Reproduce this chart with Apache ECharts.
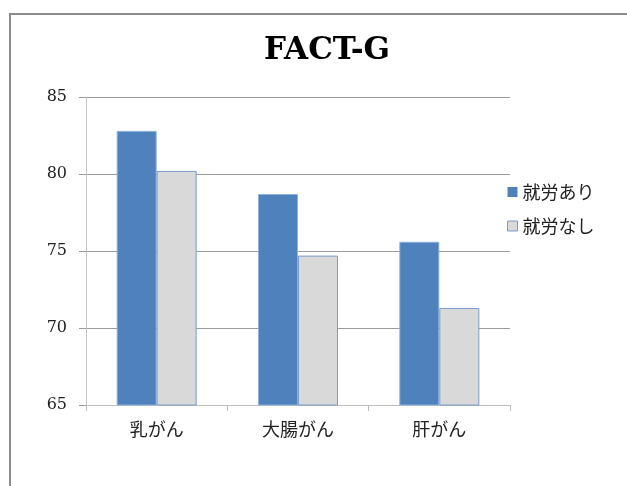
<!DOCTYPE html>
<html>
<head>
<meta charset="utf-8">
<script src="https://cdn.jsdelivr.net/npm/echarts@6/dist/echarts.min.js"></script>
<style>html,body{margin:0;padding:0;background:#fff}#c{width:627px;height:486px}</style>
</head>
<body>
<div id="c"></div>
<script>
const title = 'FACT-G';
const categories = ['乳がん', '大腸がん', '肝がん'];
const seriesNames = ['就労あり', '就労なし'];
const withWork = [82.8, 78.7, 75.6];
const withoutWork = [80.2, 74.7, 71.3];
const yMin = 65, yMax = 85, yStep = 5;

const chart = echarts.init(document.getElementById('c'), null, {renderer: 'canvas'});
chart.setOption({
  backgroundColor: '#fff',
  animation: false,
  graphic: [{
    type: 'rect', silent: true,
    shape: {x: 10, y: 14, width: 640, height: 500},
    style: {fill: 'none', stroke: '#8c8c8c', lineWidth: 2}
  }],
  title: {
    text: title, left: 322, top: 30, textAlign: 'center',
    textStyle: {fontFamily: 'DejaVu Serif', fontWeight: 'bold', fontSize: 31, color: '#000'}
  },
  legend: {
    orient: 'vertical', left: 507, top: 183, itemWidth: 10, itemHeight: 10, itemGap: 16,
    padding: 0,
    icon: 'rect',
    textStyle: {fontFamily: 'Noto Sans CJK JP', fontSize: 18, color: '#222'},
    data: [
      {name: seriesNames[0], itemStyle: {borderWidth: 0}},
      {name: seriesNames[1], itemStyle: {borderColor: '#7a9cca', borderWidth: 1}}
    ]
  },
  grid: {left: 86, right: 117, top: 97, bottom: 81, containLabel: false},
  xAxis: {
    type: 'category', data: categories,
    axisLine: {lineStyle: {color: '#bdbdbd', width: 1}},
    axisTick: {show: true, length: 6, lineStyle: {color: '#bdbdbd'}},
    axisLabel: {margin: 15, fontFamily: 'Noto Sans CJK JP', fontSize: 18, color: '#222'}
  },
  yAxis: {
    type: 'value', min: yMin, max: yMax, interval: yStep,
    axisLine: {show: true, lineStyle: {color: '#c4c4c4', width: 1}},
    axisTick: {show: true, length: 7, lineStyle: {color: '#9a9a9a'}},
    axisLabel: {margin: 19, fontFamily: 'DejaVu Serif', fontSize: 16, color: '#222'},
    splitLine: {lineStyle: {color: '#9a9a9a', width: 1}}
  },
  series: [
    {name: seriesNames[0], type: 'bar', data: withWork, barWidth: 40, barGap: '0%',
     itemStyle: {color: '#4F81BD', borderColor: '#8fb0da', borderWidth: 1}},
    {name: seriesNames[1], type: 'bar', data: withoutWork, barWidth: 40, barGap: '0%',
     itemStyle: {color: '#D9D9D9', borderColor: '#7a9cca', borderWidth: 1}}
  ]
});
</script>
</body>
</html>
